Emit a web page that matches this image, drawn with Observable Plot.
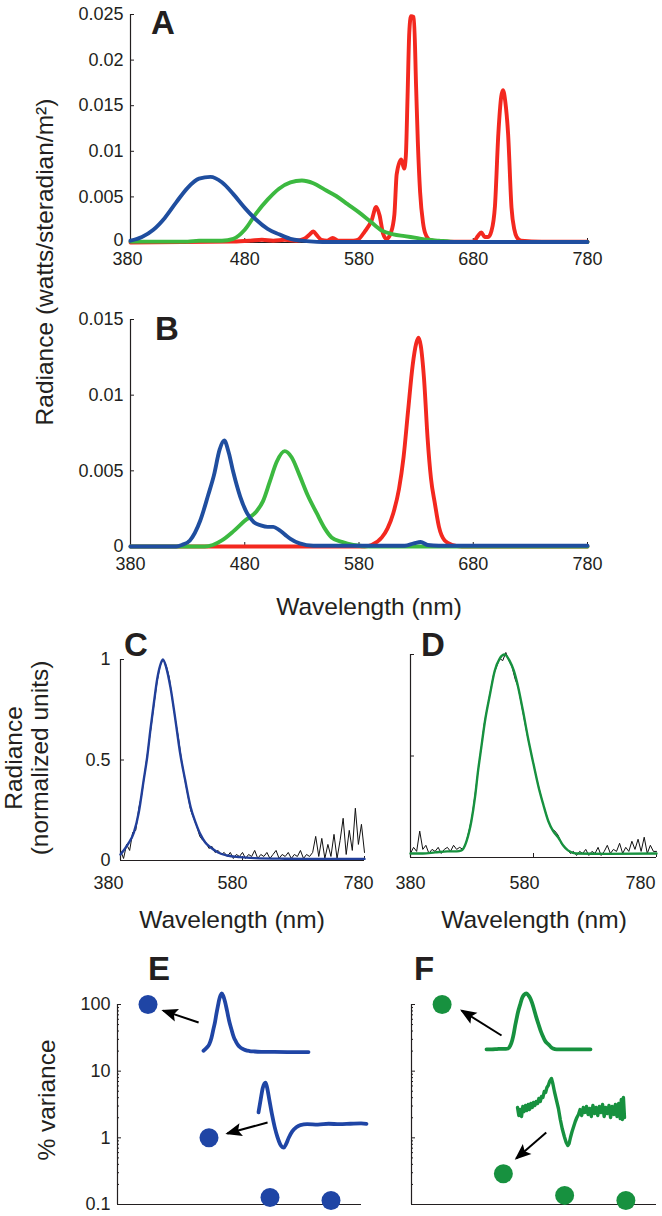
<!DOCTYPE html>
<html><head><meta charset="utf-8">
<script src="https://cdn.jsdelivr.net/npm/d3@7"></script>
<script src="https://cdn.jsdelivr.net/npm/@observablehq/plot@0.6"></script>
<style>
body{margin:0;background:#fff;}
#fig{position:relative;width:662px;height:1216px;overflow:hidden;background:#fff;}
</style></head><body><div id="fig"></div>
<script>
// ---------------- DATA ----------------
// Panel A: spectra of the three primaries (watts/steradian/m^2), [wavelength nm, radiance]
const redA = [[380,0],[470,0.0001],[485,0.0002],[495,0.0003],[505,0.0002],[515,0.0003],[525,0.0002],[532,0.0004],[537,0.0009],[540,0.0012],[543,0.0008],[547,0.0003],[552,0.0002],[557,0.0005],[562,0.0002],[575,0.0002],[579,0.0003],[585,0.0012],[591,0.0024],[595,0.0039],[598,0.0030],[601,0.0010],[604,0.0004],[608,0.0011],[611,0.0031],[613,0.0075],[617,0.0091],[619.5,0.0081],[621,0.0095],[622.5,0.0160],[624,0.0230],[625.5,0.0248],[628,0.0247],[630,0.0170],[631.5,0.0110],[633.5,0.0055],[636,0.0022],[638,0.0010],[642,0.0003],[650,0.0001],[680,0.0001],[684,0.0007],[687,0.0011],[690,0.0006],[693,0.0006],[696,0.0013],[699,0.0040],[702,0.0120],[704.5,0.0160],[706,0.0167],[708,0.0155],[710.5,0.0119],[713.5,0.0038],[716,0.0014],[718,0.0006],[722,0.0002],[740,0.0001],[780,0.0001]];
const greenA = [[380,0.0001],[430,0.0001],[440,0.0002],[460,0.0002],[470,0.0004],[480,0.0014],[490,0.0032],[500,0.0047],[510,0.0059],[520,0.0066],[530,0.0068],[540,0.0065],[550,0.0058],[560,0.0051],[570,0.0042],[580,0.0033],[590,0.0023],[600,0.0013],[610,0.0009],[620,0.0007],[630,0.0005],[640,0.0003],[650,0.0002],[660,0.0001],[670,0.00005],[780,0.00005]];
const blueA = [[380,0.0002],[390,0.0006],[400,0.0014],[410,0.0027],[420,0.0044],[430,0.0060],[440,0.0070],[450,0.0072],[460,0.0066],[470,0.0053],[480,0.0038],[490,0.0025],[500,0.0015],[510,0.0009],[520,0.0004],[530,0.0002],[540,0.0001],[550,0.00005],[780,0.00005]];
// Panel B
const redB = [[380,0],[585,0],[591,0.0001],[600,0.0006],[605,0.0012],[610,0.0022],[615,0.0038],[619,0.0059],[623,0.0090],[627,0.0120],[630,0.0134],[632,0.0138],[634,0.0133],[637,0.0110],[640,0.0072],[643,0.0045],[646.5,0.0028],[650,0.0013],[655,0.0004],[662,0.0001],[670,0],[780,0]];
const greenB = [[380,0],[445,0],[452,0.0001],[460,0.0004],[470,0.0010],[480,0.0017],[490,0.0023],[496,0.0030],[502,0.0043],[508,0.0056],[515,0.0063],[521,0.0059],[528,0.0047],[535,0.0034],[543,0.0022],[550,0.0012],[556,0.0006],[565,0.0003],[575,0.0001],[590,0],[780,0]];
const blueB = [[380,0],[420,0],[425,0.0001],[432,0.0004],[441,0.0017],[448,0.0034],[453,0.0047],[458,0.0064],[462,0.0070],[466,0.0062],[470,0.0049],[476,0.0033],[482,0.0022],[488,0.0016],[494,0.0014],[500,0.0013],[505,0.0013],[510,0.0011],[515,0.0008],[520,0.0005],[528,0.0002],[540,0.00005],[620,0.00005],[628,0.0002],[634,0.0003],[640,0.0001],[650,0.00005],[780,0.00005]];
// Panels C, D: normalized measured spectra (5 nm steps from 380) and fitted curves
const measWl = d3.range(380, 781, 5);
const blackC = [0.05,0.01,0.08,0.05,0.14,0.15,0.26,0.33,0.44,0.55,0.66,0.78,0.89,0.97,1.00,0.97,0.91,0.80,0.70,0.61,0.50,0.41,0.33,0.25,0.21,0.17,0.12,0.10,0.09,0.06,0.07,0.04,0.05,0.03,0.04,0.02,0.04,0.01,0.03,0.02,0.04,0.01,0.03,0.02,0.05,0.01,0.03,0.02,0.04,0.01,0.03,0.05,0.01,0.03,0.02,0.04,0.01,0.03,0.02,0.05,0.01,0.03,0.02,0.04,0.12,0.02,0.11,0.01,0.08,0.02,0.13,0.01,0.10,0.21,0.03,0.15,0.05,0.26,0.08,0.18,0.04];
const blackD = [0.02,0.05,0.03,0.13,0.04,0.06,0.02,0.04,0.03,0.05,0.02,0.04,0.05,0.03,0.06,0.04,0.05,0.04,0.07,0.13,0.20,0.31,0.43,0.54,0.66,0.74,0.82,0.90,0.94,0.98,0.97,1.01,0.97,0.94,0.88,0.84,0.76,0.68,0.60,0.53,0.46,0.39,0.33,0.27,0.22,0.17,0.14,0.13,0.11,0.07,0.05,0.04,0.02,0.03,0.01,0.03,0.02,0.04,0.01,0.03,0.02,0.05,0.01,0.03,0.06,0.02,0.04,0.03,0.07,0.02,0.05,0.03,0.08,0.04,0.09,0.03,0.10,0.02,0.06,0.03,0.03];
const blueFit = [[380,0.03],[392,0.08],[402,0.14],[410,0.24],[418,0.40],[424,0.52],[429,0.65],[435,0.79],[440,0.90],[445,0.97],[449.5,1.0],[455,0.96],[462,0.86],[470,0.70],[478,0.53],[486,0.40],[495,0.265],[503,0.19],[511,0.13],[519,0.09],[527.5,0.066],[540,0.04],[555,0.025],[575,0.017],[600,0.012],[650,0.009],[700,0.008],[780,0.008]];
const greenFit = [[380,0.02],[400,0.02],[420,0.025],[440,0.03],[455,0.03],[463,0.035],[471,0.08],[479,0.18],[485,0.30],[490,0.43],[495,0.54],[501,0.67],[509,0.80],[517,0.92],[525,0.98],[533,1.0],[541,0.97],[548,0.92],[555,0.84],[563,0.72],[571,0.59],[580,0.46],[588,0.35],[596,0.26],[604,0.18],[612,0.13],[620,0.10],[628,0.06],[636,0.035],[650,0.02],[700,0.018],[780,0.02]];
// Panels E, F: % variance per principal component
const components = [1, 2, 3, 4];
const varE = [100, 1.0, 0.127, 0.115];
const varF = [100, 0.29, 0.137, 0.115];
// second principal component shapes (insets), [wavelength, relative weight]
const comp2E = [[380,0.30],[388,0.60],[396,0.88],[402,0.98],[406,1.0],[412,0.88],[420,0.60],[430,0.25],[440,-0.05],[450,-0.28],[460,-0.45],[468,-0.52],[474,-0.53],[482,-0.45],[492,-0.30],[505,-0.15],[520,-0.05],[535,0.0],[560,0.02],[600,0.01],[640,0.03],[680,0.02],[720,0.03],[760,0.04],[780,0.03]];
const comp2F = [[380,6],[385,-2],[390,4],[395,-3],[400,7],[405,2],[410,8],[415,3],[420,9],[425,4],[430,10],[435,6],[440,11],[445,8],[450,12],[455,10],[460,15],[465,12],[470,17],[475,16],[480,22],[485,21],[490,26],[495,28],[500,32],[507,35],[512,30],[518,22],[525,14],[533,5],[540,-6],[547,-15],[555,-23],[562,-29],[568,-32],[573,-30],[578,-24],[584,-18],[590,-13],[596,-8],[602,-4],[608,-1],[614,4],[620,-2],[626,6],[632,1],[638,7],[644,-1],[650,5],[656,-3],[662,8],[668,0],[674,6],[680,-2],[686,7],[692,1],[698,9],[704,-3],[710,6],[716,0],[722,8],[728,-4],[734,7],[740,-1],[746,9],[752,-3],[758,10],[764,-5],[768,14],[772,-6],[776,16],[780,-4]];
// arrows in E and F (component, % variance): from -> to
const arrowsE = [{x1:1.83,y1:53.7,x2:1.25,y2:81},{x1:2.96,y1:1.70,x2:2.30,y2:1.16}];
const arrowsF = [{x1:1.97,y1:34.3,x2:1.32,y2:81},{x1:2.70,y1:1.20,x2:2.21,y2:0.49}];
// tick values
const wlTicksAB = [380, 480, 580, 680, 780];
const wlTicksCD = [380, 580, 780];
const yTicksA = [0, 0.005, 0.01, 0.015, 0.02, 0.025];
const yTicksB = [0, 0.005, 0.01, 0.015];
const yTicksCD = [0, 0.5, 1];
const yTicksEF = [0.1, 1, 10, 100];
const yMinorEF = [0.2,0.3,0.4,0.5,0.6,0.7,0.8,0.9,2,3,4,5,6,7,8,9,20,30,40,50,60,70,80,90];

// ---------------- STYLE ----------------
const FONT = '"Liberation Sans", Arial, Helvetica, sans-serif';
const INK = "#231f20";
const RED = "#f3281f", GREEN = "#3cb940", BLUE = "#1f4e9f";
const CBLUE = "#213f9a", DGREEN = "#17913f", EBLUE = "#1f45a5";
const fig = document.getElementById("fig");
function put(node, left, top) {
  node.style.position = "absolute"; node.style.left = left + "px"; node.style.top = top + "px";
  fig.appendChild(node);
}
const pts = (arr) => arr.map(d => ({x: d[0], y: d[1]}));
const zipWl = (vals) => vals.map((v, i) => ({x: measWl[i], y: v}));

function panel(o) {
  const fw = o.width - o.ml - o.mr, fh = o.height - o.mt - o.mb;
  const marks = [];
  if (o.xLabels) o.xTicks.forEach((t, i) => marks.push(Plot.axisX([t], {tickSize: 0, tickPadding: o.xPad,
    dx: Array.isArray(o.xDx) ? o.xDx[i] : (o.xDx || 0), label: null, fontSize: 18})));
  if (o.yLabels) o.yTicks.forEach((t, i) => marks.push(Plot.axisY([t], {tickSize: 0, tickPadding: o.yPad,
    dy: (o.yDy && o.yDy[i]) || 0, label: null, fontSize: 18, tickFormat: o.yFmt})));
  if (o.xTickMarks) marks.push(Plot.tickX(o.xTickMarks, {x: d => d, insetTop: fh - 4, stroke: INK}));
  marks.push(Plot.tickY(o.yTicks, {y: d => d, insetRight: fw - 4, stroke: INK}));
  if (o.yMinor) marks.push(Plot.tickY(o.yMinor, {y: d => d, insetRight: fw - 2, stroke: INK}));
  marks.push(Plot.ruleX([o.xDomain[0]], {stroke: INK, strokeWidth: 1.2}));
  marks.push(Plot.ruleY([o.yDomain[0]], {stroke: INK, strokeWidth: 1.2}));
  marks.push(...o.marks);
  return Plot.plot({
    width: o.width, height: o.height,
    marginLeft: o.ml, marginRight: o.mr, marginTop: o.mt, marginBottom: o.mb,
    style: {fontFamily: FONT, fontSize: "18px", color: INK, background: "transparent", overflow: "visible"},
    x: {domain: o.xDomain, axis: o.xLabels ? undefined : null},
    y: {domain: o.yDomain, type: o.yType || "linear", axis: o.yLabels ? undefined : null},
    marks
  });
}
const fmtA = d => String(+d.toFixed(3));
const specLine = (data, color, sw = 3.9) => Plot.line(pts(data), {x: "x", y: "y", stroke: color, strokeWidth: sw, curve: "monotone-x", strokeLinejoin: "round", strokeLinecap: "round"});

// Panel A
put(panel({width: 600, height: 275, ml: 130, mr: 13, mt: 14, mb: 33,
  xDomain: [380, 780], yDomain: [0, 0.025], xTicks: wlTicksAB, xTickMarks: wlTicksAB, yTicks: yTicksA,
  xLabels: true, yLabels: true, xPad: 10, xDx: [-3, 0, 0, 0, 0], yPad: 7, yDy: [-2], yFmt: fmtA,
  marks: [specLine(redA, RED), specLine(greenA, GREEN), specLine(blueA, BLUE)]}), 0, 0);

// Panel B
put(panel({width: 600, height: 279, ml: 130, mr: 13, mt: 19, mb: 33,
  xDomain: [380, 780], yDomain: [0, 0.015], xTicks: wlTicksAB, xTickMarks: wlTicksAB, yTicks: yTicksB,
  xLabels: true, yLabels: true, xPad: 11, yPad: 7, yFmt: fmtA,
  marks: [specLine(redB, RED), specLine(greenB, GREEN), specLine(blueB, BLUE)]}), 0, 300);

// Panel C
put(panel({width: 380, height: 255, ml: 120, mr: 16, mt: 19, mb: 35,
  xDomain: [380, 780], yDomain: [0, 1], xTicks: wlTicksCD, xTickMarks: wlTicksCD, yTicks: yTicksCD,
  xLabels: true, yLabels: true, xPad: 16, xDx: [-12, -10, -6], yPad: 10, yFmt: d => String(d),
  marks: [
    Plot.line(zipWl(blackC), {x: "x", y: "y", stroke: "#111", strokeWidth: 1}),
    Plot.line(pts(blueFit), {x: "x", y: "y", stroke: CBLUE, strokeWidth: 2.4, curve: "monotone-x"})
  ]}), 0, 640);

// Panel D
put(panel({width: 332, height: 255, ml: 80, mr: 6, mt: 14, mb: 38,
  xDomain: [380, 780], yDomain: [0, 1], xTicks: wlTicksCD, xTickMarks: wlTicksCD, yTicks: yTicksCD,
  xLabels: true, yLabels: false, xPad: 19, xDx: [0, -9, -16],
  marks: [
    Plot.line(zipWl(blackD), {x: "x", y: "y", stroke: "#111", strokeWidth: 1}),
    Plot.line(pts(greenFit), {x: "x", y: "y", stroke: DGREEN, strokeWidth: 2.4, curve: "monotone-x"})
  ]}), 330, 640);

// Panels E, F
function varPanel(vals, arrows, color, withLabels, ml, width) {
  const svg = panel({width, height: 231, ml, mr: width - ml - (withLabels ? 244 : 245), mt: 19, mb: 12,
    xDomain: [0.5, 4.5], yDomain: [0.1, 100], yType: "log", yTicks: yTicksEF, yMinor: yMinorEF,
    xLabels: false, yLabels: withLabels, yPad: 7, yFmt: d => String(d),
    marks: [
      Plot.dot(components.map((c, i) => ({c, v: vals[i]})), {x: "c", y: "v", r: 9.5, fill: color, stroke: "none"}),
      Plot.link(arrows, {x1: "x1", y1: "y1", x2: "x2", y2: "y2", stroke: "#000", strokeWidth: 2, markerEnd: "arrow"})
    ]});
  svg.querySelectorAll("marker").forEach(m => {
    m.setAttribute("viewBox", "-8 -5 10 10");
    m.setAttribute("markerWidth", 10); m.setAttribute("markerHeight", 10);
    m.setAttribute("fill", "#000"); m.setAttribute("stroke", "none");
    const p = m.querySelector("path"); if (p) p.setAttribute("d", "M-7.2,-3.3L1,0L-7.2,3.3L-5.6,0Z");
  });
  return svg;
}
put(varPanel(varE, arrowsE, EBLUE, true, 117, 380), 0, 985);
put(varPanel(varF, arrowsF, DGREEN, false, 81, 332), 330, 985);

// Insets: spectral shapes of components 1 and 2
function inset(data, {left, top, w, h, yDomain, color, sw, curve}) {
  const svg = Plot.plot({width: w + 8, height: h + 8, margin: 4,
    style: {background: "transparent", overflow: "visible"},
    x: {domain: [380, 780], axis: null}, y: {domain: yDomain, axis: null},
    marks: [Plot.line(pts(data), {x: "x", y: "y", stroke: color, strokeWidth: sw, curve, strokeLinejoin: "round"})]});
  put(svg, left - 4, top - 4);
}
inset(blueFit, {left: 203, top: 993, w: 105, h: 59, yDomain: [0, 1], color: EBLUE, sw: 3.8, curve: "monotone-x"});
inset(comp2E, {left: 258, top: 1080, w: 108, h: 70, yDomain: [-0.6, 1.05], color: EBLUE, sw: 3.8, curve: "monotone-x"});
inset(greenFit, {left: 486, top: 993, w: 104, h: 57, yDomain: [0, 1], color: DGREEN, sw: 3.8, curve: "monotone-x"});
inset(comp2F, {left: 517, top: 1073, w: 107, h: 75, yDomain: [-35, 40], color: DGREEN, sw: 3.4, curve: "linear"});

// Text overlay
const ov = d3.create("svg").attr("width", 662).attr("height", 1216)
  .style("position", "absolute").style("left", "0px").style("top", "0px").style("pointer-events", "none")
  .attr("font-family", FONT).attr("fill", INK);
function txt(s, x, y, o = {}) {
  const t = ov.append("text").attr("x", x).attr("y", y).attr("font-size", o.size || 24.5)
    .attr("text-anchor", o.anchor || "start").text(s);
  if (o.bold) t.attr("font-weight", "bold");
  if (o.rot) t.attr("transform", `rotate(-90 ${x} ${y})`);
}
txt("A", 151, 34, {bold: true, size: 33});
txt("B", 155, 340, {bold: true, size: 33});
txt("C", 124, 656, {bold: true, size: 33});
txt("D", 421, 656, {bold: true, size: 33});
txt("E", 148, 980, {bold: true, size: 33});
txt("F", 414, 980, {bold: true, size: 33});
txt("Radiance (watts/steradian/m²)", 53, 262, {anchor: "middle", rot: true});
txt("Wavelength (nm)", 369, 615, {anchor: "middle"});
txt("Radiance", 22, 758, {anchor: "middle", rot: true});
txt("(normalized units)", 48, 758, {anchor: "middle", rot: true});
txt("Wavelength (nm)", 232, 928, {anchor: "middle"});
txt("Wavelength (nm)", 534, 928, {anchor: "middle"});
txt("% variance", 55, 1100, {anchor: "middle", rot: true});
fig.appendChild(ov.node());
</script></body></html>
